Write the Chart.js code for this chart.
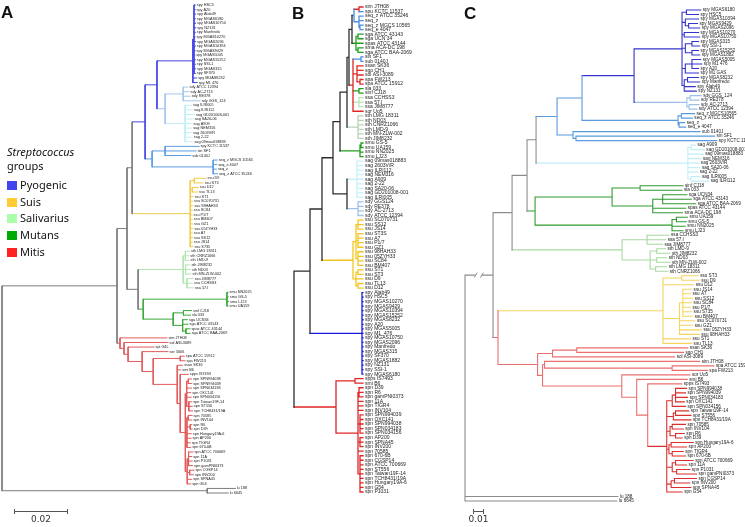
<!DOCTYPE html>
<html>
<head>
<meta charset="utf-8">
<script src="https://cdn.jsdelivr.net/npm/chart.js@4.4.1/dist/chart.umd.min.js"></script>
<style>
  body { margin: 0; background: #fff; }
  #wrap { position: relative; width: 745px; height: 527px; overflow: hidden; font-family: "Noto Sans", "DejaVu Sans", sans-serif; }
  canvas { position: absolute; top: 0; }
  .letter { position: absolute; font: bold 17px "Liberation Sans", Arial, sans-serif; color: #111; }
  .leg { position: absolute; left: 7px; font-size: 11px; color: #111; }
  .sw { position: absolute; left: 7px; width: 10px; height: 9px; }
</style>
</head>
<body>
<div id="wrap">
  <canvas id="treeA" width="258" height="527" style="left:0"></canvas>
  <canvas id="treeB" width="185" height="527" style="left:250px"></canvas>
  <canvas id="treeC" width="315" height="527" style="left:430px"></canvas>
  <div class="letter" style="left:1px;top:3px">A</div>
  <div class="letter" style="left:292px;top:4px">B</div>
  <div class="letter" style="left:464px;top:4px">C</div>
  <div id="legend"></div>
</div>
<script>
// Streptococcus groups legend
const groupNames = ['Pyogenic', 'Suis', 'Salivarius', 'Mutans', 'Mitis'];
const groupColors = ['#4444ee', '#ffcc33', '#aaffaa', '#00aa00', '#ff2222'];

// --- panel A (branch lengths in 0.001 substitutions/site) ---
const spyCladeA = "((spy HSC5:0.5,spy A20:0.4,spy Alab49:0.6,spy MGAS6180:0.5,spy MGAS10750:0.6,spy NZ131:0.7,spy Manfredo:0.5,spy MGAS10270:0.4,spy MGAS2096:0.6,spy MGAS10394:0.5,spy MGAS9429:0.4,spy MGAS5005:0.3,spy MGAS15252:0.5,spy SSI-1:0.5,spy MGAS315:0.6,spy SF370:0.5)pyo:0.4,spy MGAS8232:1.4,spy M1 476:1.6)pyo:13.3";
const sdySagA = "((sdy ATCC 12394:1.8,sdy AC-2713:2.2,sdy RE378:2.6,sdy GGS_124:6.3)sdy:6.7,(sag ILRI005:2.4,sag ILRI112:2.8,sag GD201008-001:3.5,sag SA20-06:3.0,sag A909:2.6,sag NEM316:2.5,sag 2603V/R:2.4,sag 2-22:2.7,sag 09mas018883:2.9)sag:7.4)sdy:3.0";
const seqCladeA = "((spy KCTC 11537:12.6,sin SF1:11.5,sub 0140J:9.5)seq:4.8,(seq_z MGCS 10565:1.5,seq_e 4047:1.3,seq_z:1.2,seq_z ATCC 35246:1.6)seq:22.6)seq:2.6";
const suisCladeA = "((ssu D9:4.4,ssu ST3:3.3)suis:1.5,(ssu D12:2.2,ssu TL13:1.9)suis:0.8,ssu ST1:1.1,ssu SC070731:0.9,ssu 98HAH33:1.0,ssu SC84:0.8,ssu P1/7:0.7,ssu BM407:0.8,ssu GZ1:0.9,ssu 05ZYH33:1.0,ssu A7:0.8,ssu SS12:0.9,ssu JS14:0.8,ssu S735:1.0)suis:21.5";
const salCladeA = "((sth LMG 18311:1.5,sth CNRZ1066:1.3,sth LMD-9:1.4)sal:0.8,(sth JIM8232:1.6,sth ND03:1.8,sth MN-ZLW-002:2.0)sal:0.9,(ssa JIM8777:2.3,ssa CCHSS3:2.1,ssa 57.I:2.4)sal:1.4)sal:16.7";
const mutCladeA = "((smu NN2025:0.4,smu GS-5:0.5,smu LJ23:0.6,smu UA159:0.4)mut:31.0,((sinf CJ18:3.0,sla 033:2.6)mut:3.8,(sga UCN34:1.8,sga ATCC 43143:2.0,(spas ATCC 43144:1.5,sga ATCC BAA-2069:1.6)mut:1.2)mut:3.5)mut:11.1)mut:1.9";
const spnCladeA = "(((spn SPN994038:1.2,spn SPN994039:1.3)mit:0.6,spn SPN034183:1.8,spn OXC141:1.5,spn SPN034156:1.7,(spn Taiwan19F-14:1.1,spn ST556:1.3,spn TCH8431/19A:1.4)mit:0.8)mit:0.5,((spn 70585:1.4,spn INV104:1.3)mit:0.5,(spn R6:0.6,spn D39:0.7)mit:1.2,spn Hungary19A-6:1.6,spn AP200:1.5,spn TIGR4:1.2,spn 670-6B:1.4)mit:0.6,((spn ATCC 700669:1.6,spn 11A:1.2,spn P1031:1.3,spn gamPNI0373:1.5)mit:0.5,(spn CGSP14:1.6,spn INV200:1.4)mit:0.9,spn SPNA45:1.7,spn G54:1.3)mit:0.7)mit:1.9";
const mitCladeA = "(sim JTH08:17.4,(sol ASI-3089:16.3,(spi G4L:9.6,(ser 5606:9.6,((spa ATCC 15912:1.5,spa FW213:1.8)mit:10.0,(ssan SK36:2.0,smi B6:1.3,(spps IS7493:3.0," + spnCladeA + ")mit:1.1)mit:8.9)mit:4.1)mit:5.2)mit:1.5)mit:1.5)mit:1.1";
const outCladeA = "(lu 188:10.4,lu 6645:7.8)grey:76.0";
const treeA = `((((((${spyCladeA},${sdySagA})pyo:4.4,${seqCladeA})pyo:4.8,${suisCladeA})grey:1.9,(${salCladeA},${mutCladeA})grey:4.1)grey:3.7,${mitCladeA})grey:42.6,${outCladeA})grey;`;
const scaleBarA = 0.02;

// --- panel B (cladogram, relative node depths) ---
const topCladeB = "(((sim JTH08|mit:2,spu KCTC 11537|seq:2)mit:5,(seq_z ATCC 35246:2,seq_z:2,(seq_z MGCS 10565:1,seq_e 4047:1)seq:1)seq:5)seq:2,((sga ATCC 43143:2,sga UCN 34:2)mut:2,spas ATCC 43144:3,(sma ACA-DC 198:1,sga ATCC BAA-2069:1)mut:2)mut:4)black:3";
const mixCladeB = "((sin SF1:2,sub 0140J:2)seq:8,(ssan SK36:4,sgo CH1:4,sol ASI-3089:3,(spa FW213:1,spa ATCC 15912:1)mit:3)mit:4,(sla 033:2,sinf CJ18:2)mut:6,(ssa CCHSS3:2,ssa 57.I:1,ssa JIM8777:1)sal:6,sor Uo5:10)mit:4";
const sthCladeB = "(sth LMG 18311:2,sth ND03:2,sth CNRZ1066:2,sth LMD-9:2,sth MN-ZLW-002:2,sth JIM8232:2)salp:11";
const smuCladeB = "((smu GS-5:1,smu UA159:1)mut:1,smu NN2025:2,smu LJ23:2)mut:20";
const sagSdyB = "((sag 09mas018883:2,sag 2603V/R:2,sag ILRI112:2,sag NEM316:2,sag A909:2,sag 2-22:2,sag SA20-06:2,sag GD201008-001:2,sag ILRI005:2)sag:10,(sdy GGS124:1,sdy RE378:1,sdy AC-2713:1,sdy ATCC 12394:1)sdy:11)black:14";
const suisCladeB = "(((ssu SC070731:2,ssu SS12:2,ssu JS14:2)suis:2,(ssu ST3S:1,ssu A7:1,ssu P1/7:1,ssu GZ1:1)suis:2,(ssu 98HAH33:1,ssu 05ZYH33:1,ssu SC84:1,ssu BM407:1)suis:2)suis:3,((ssu ST1:1,ssu ST3:1)suis:2,ssu D9:3,(ssu TL13:1,ssu D12:1)suis:2)suis:3)suis:31";
const spyCladeB = "(spy Alab49:1,spy HSC5:1,spy MGAS10270:1,spy MGAS9429:1,spy MGAS10394:1,spy MGAS15252:1,spy MGAS8232:1,spy A20:1,spy MGAS5005:1,spy M1_476:1,spy MGAS10750:1,spy MGAS2096:1,spy Manfredo:1,spy MGAS315:1,spy SF370:1,spy MGAS1882:1,spy NZ131:1,spy SSI-1:1,spy MGAS6180:1)pyo:52";
const mitCladeB = "((spps IS7493:2,smi B6:2)mit:19,((spn D39:1,spn R6:1,spn gamPNI0373:1)mit:1,spn 11A:2,spn TIGR4:2,spn INV104:2,(spn SPN994039:1,spn OXC141:1,spn SPN994038:1,spn SPN034183:1,spn SPN034156:1)mit:2,(spn AP200:1,spn SPNA45:1,spn INV200:1)mit:2,spn 70585:2,(spn 670-6B:1,spn CGSP14:1,spn ATCC 700669:1,spn ST556:1,spn Taiwan19F-14:1,spn TCH8431/19A:1,spn Hungary19A-6:1,spn G54:1,spn P1031:1)mit:2)mit:22)mit:42";
const treeB = `(((((((${topCladeB},${mixCladeB})black:2,${sthCladeB})black:7,${smuCladeB})black:7,${sagSdyB})black:11,${suisCladeB})black:12,${spyCladeB})black:16,${mitCladeB})black;`;

// --- panel C (branch lengths in 0.001 substitutions/site, root branch broken) ---
const spyCladeC = "((spy MGAS6180:13,spy HSC5:11)pyo:4,(spy MGAS10394:12,(spy MGAS9429:8,spy MGAS2096:10)pyo:3)pyo:3,(spy MGAS10270:13,spy MGAS10750:14)pyo:2,((spy MGAS315:6,spy SSI-1:7)pyo:6,(spy MGAS15252:6,spy MGAS1882:7)pyo:6)pyo:3,((spy MGAS5005:8,spy M1 476:9,spy A20:6)pyo:6,spy M1 GAS:12)pyo:3,((spy MGAS8232:10,spy Manfredo:11)pyo:3,spy Alab49:10,spy NZ131:11)pyo:2)pyo:43.6";
const sdyCladeC = "((sdy GGS_124:10,sdy RE378:8)sdy:3,(sdy AC-2713:9,sdy ATCC 12394:7)sdy:2)sdy:48";
const seqCladeC = "((seq_z MGCS10565:12,seq_z ATCC 35246:10)seq:3,(seq_z:5,seq_e 4047:6)seq:1)seq:87.3";
const subCladeC = "(sub 0140J:115.5,(sin SF1:126,spy KCTC 11537:128)seq:2.7)seq:14.5";
const sagCladeC = "((sag A909:4,sag GD201008-001:12)sag:3,sag 09mas018883:14,sag NEM316:12,sag 2603V/R:10,sag SA20-06:11,sag 2-22:9,(sag ILRI005:8,sag ILRI112:16)sag:3)sag:138";
const mutCladeC = "(((sinf CJ18:39,sla 033:38)mut:25.5,((sga UCN34:22,sga ATCC 43143:26,sga ATCC BAA-2069:30)mut:9,spas ATCC 43144:30,sma ACA-DC 198:27)mut:37)mut:70,((smu UA159:10,smu GS-5:9)mut:4,smu NN2025:12,smu LJ23:10)mut:124.5)mut:7.3";
const salCladeC = "((ssa CCHSS3:20,ssa 57.I:17,ssa JIM8777:14)sal:22.7,((sth LMD-9:8,sth JIM8232:12)sal:6,(sth ND03:9,sth MN-ZLW-002:12)sal:6,(sth LMG 18311:10,sth CNRZ1066:11)sal:5)sal:25.5)sal:100";
const suisCladeC = "((ssu ST3:15,ssu D9:16)suis:17,ssu D12:28,((ssu JS14:8,ssu A7:7,ssu SS12:9,ssu SC84:8,ssu P1/7:7,ssu S735:8,ssu BM407:9)suis:3,ssu SC070731:14,ssu GZ1:12,ssu 05ZYH33:20,ssu 98HAH33:18)suis:15,ssu ST1:25,ssu TL13:26)suis:150";
const spnCladeC = "(((spn SPN994038:10,spn SPN994039:9,spn SPN034183:11,spn OXC141:8)mit:3,spn SPN034156:12)mit:5,((spn Taiwan19F-14:12,spn ST556:14)mit:2,spn TCH8431/19A:16)mit:6,((spn 70585:12,spn INV104:10)mit:2,(spn R6:8,spn D39:6)mit:5)mit:3,((spn Hungary19A-6:20,spn AP200:14)mit:2,(spn TIGR4:10,spn 670-6B:12)mit:3)mit:2,((spn ATCC 700669:16,spn 11A:10)mit:3,(spn P1031:12,spn gamPNI0373:18)mit:4)mit:5,((spn CGSP14:20,spn INV200:14)mit:3,spn SPNA45:18)mit:4,spn G54:14)mit:17.3";
const mitCladeC = "(((ssan SK36:101,sgo CH1:97)mitL:22,sol ASI-3089:111)mitL:13.6,((sim JTH08:141,(spa ATCC 15912:38,spa FW213:32)mitL:116)mitL:1.8,(sor Uo5:62,(smi B6:46,(spps IS7493:31," + spnCladeC + ")mitL:10)mitL:13.6)mitL:72)mitL:4.5)mitL:36";
const treeC = `((((((((${spyCladeC},${sdyCladeC})pyo:47.3,${seqCladeC})seq:22.7,${subCladeC})seq:19.1,${sagCladeC})grey:8.2,${mutCladeC})grey:13.6,${salCladeC})grey:17.3,(${suisCladeC},${mitCladeC})mitL:4.5)grey:25.5,lu 188:139,lu 6645:138)grey;`;
const scaleBarC = 0.01;

const paletteA = { grey: '#7d7d7d', pyo: '#4646e4', sdy: '#a6c6ee', sag: '#c2eff8', seq: '#5c9ce2', suis: '#f2cc4a', sal: '#b4e6b0', mut: '#3aa93a', mit: '#e35c5c' };
const paletteB = { black: '#2e2e2e', pyo: '#1a1ade', sdy: '#9fc0ea', sag: '#c6f1f8', seq: '#4a8fe2', suis: '#f4c51e', sal: '#b6e8ae', salp: '#b7d2b7', mut: '#1f9e1f', mit: '#e02626' };
const paletteC = { grey: '#8c8c8c', pyo: '#3434cc', sdy: '#9cc0ea', sag: '#c0eff8', seq: '#5a9ae0', suis: '#f6d35c', sal: '#a9d9a1', mut: '#2f9b2f', mit: '#db2f2f', mitL: '#ea6f6f' };

function parseNewick(s) {
  let i = 0;
  function node() {
    const n = { children: [] };
    if (s[i] === '(') {
      i++;
      n.children.push(node());
      while (s[i] === ',') { i++; n.children.push(node()); }
      i++;
    }
    let lab = '';
    while (i < s.length && !',():;'.includes(s[i])) lab += s[i++];
    lab = lab.trim();
    n.len = 0;
    if (s[i] === ':') {
      i++;
      let num = '';
      while (i < s.length && !',();'.includes(s[i])) num += s[i++];
      n.len = parseFloat(num);
    }
    if (n.children.length) n.color = lab || null;
    else { const p = lab.split('|'); n.name = p[0].trim(); n.color = p[1] || null; }
    return n;
  }
  return node();
}

function layoutTree(root, align) {
  const leaves = [], segs = [];
  (function walk(n, x0, col) {
    n.x = x0 + n.len;
    n.col = n.color || col;
    if (!n.children.length) { n.y = leaves.length; leaves.push(n); }
    else n.children.forEach(c => walk(c, n.x, n.col));
  })(root, 0, null);
  if (align) {
    const m = Math.max(...leaves.map(l => l.x));
    leaves.forEach(l => { l.x = m; });
  }
  (function place(n) {
    if (!n.children.length) return;
    n.children.forEach(place);
    n.y = (n.children[0].y + n.children[n.children.length - 1].y) / 2;
  })(root);
  (function collect(n) {
    if (!n.children.length) return;
    const first = n.children[0], last = n.children[n.children.length - 1];
    segs.push({ c: n.col, a: [n.x, first.y], b: [n.x, last.y] });
    n.children.forEach(c => {
      segs.push({ c: c.col, a: [n.x, c.y], b: [c.x, c.y] });
      collect(c);
    });
  })(root);
  return { root, leaves, segs };
}

const leafLabels = {
  id: 'leafLabels',
  afterDatasetsDraw(chart, args, o) {
    if (!o || !o.leaves) return;
    const { ctx, scales: { x, y } } = chart;
    ctx.save();
    ctx.fillStyle = o.color;
    ctx.font = o.font;
    ctx.textBaseline = 'middle';
    o.leaves.forEach(l => ctx.fillText(l.name, x.getPixelForValue(l.x) + o.gap, y.getPixelForValue(l.y)));
    ctx.restore();
  }
};

const scaleBar = {
  id: 'scaleBar',
  afterDraw(chart, args, o) {
    if (!o || !o.length) return;
    const { ctx, scales: { x } } = chart;
    const x0 = chart.chartArea.left + o.left;
    const x1 = x0 + (x.getPixelForValue(o.length) - x.getPixelForValue(0));
    ctx.save();
    ctx.strokeStyle = '#555';
    ctx.lineWidth = 1;
    ctx.beginPath();
    ctx.moveTo(x0, o.y + 0.5); ctx.lineTo(x1, o.y + 0.5);
    ctx.moveTo(x0 + 0.5, o.y - 2); ctx.lineTo(x0 + 0.5, o.y + 3);
    ctx.moveTo(x1 - 0.5, o.y - 2); ctx.lineTo(x1 - 0.5, o.y + 3);
    ctx.stroke();
    ctx.fillStyle = '#333';
    ctx.font = o.font;
    ctx.textAlign = 'center';
    ctx.textBaseline = 'top';
    ctx.fillText(o.label, (x0 + x1) / 2, o.y + 4);
    ctx.restore();
  }
};

// "//" mark on a truncated branch
const breakMark = {
  id: 'breakMark',
  afterDatasetsDraw(chart, args, o) {
    if (!o || !o.node) return;
    const { ctx, scales: { x, y } } = chart;
    const py = y.getPixelForValue(o.node.y);
    const p0 = x.getPixelForValue(o.node.x * 0.38);
    const p1 = x.getPixelForValue(o.node.x * 0.6);
    ctx.save();
    ctx.fillStyle = '#fff';
    ctx.fillRect(p0, py - 2, p1 - p0, 4);
    ctx.strokeStyle = '#8c8c8c';
    ctx.lineWidth = 1;
    ctx.beginPath();
    [p0, p1].forEach(px => { ctx.moveTo(px - 1.5, py + 2.5); ctx.lineTo(px + 1.5, py - 2.5); });
    ctx.stroke();
    ctx.restore();
  }
};

function drawTree(canvasId, newick, cfg) {
  const canvas = document.getElementById(canvasId);
  const W = canvas.width, H = canvas.height;
  const tree = layoutTree(parseNewick(newick), cfg.align);
  const n = tree.leaves.length;
  const step = (cfg.bottom - cfg.top) / (n - 1);
  const byColor = {};
  tree.segs.forEach(s => {
    (byColor[s.c] = byColor[s.c] || []).push({ x: s.a[0], y: s.a[1] }, { x: s.b[0], y: s.b[1] }, { x: null, y: null });
  });
  const datasets = Object.keys(byColor).map(k => ({
    data: byColor[k],
    borderColor: cfg.palette[k] || '#888',
    borderWidth: cfg.lineWidth,
    pointRadius: 0,
    spanGaps: false,
    tension: 0,
    borderCapStyle: 'square',
    fill: false
  }));
  const breakNode = cfg.breakRoot ? tree.root.children[0] : null;
  return new Chart(canvas.getContext('2d'), {
    type: 'line',
    data: { datasets },
    options: {
      responsive: false,
      animation: false,
      events: [],
      layout: { padding: 0 },
      scales: {
        x: { type: 'linear', display: false, min: -cfg.rootPx / cfg.unitPx, max: (W - cfg.rootPx) / cfg.unitPx },
        y: { type: 'linear', display: false, reverse: true, min: -cfg.top / step, max: (H - cfg.top) / step }
      },
      plugins: {
        legend: { display: false },
        tooltip: { enabled: false },
        leafLabels: { leaves: tree.leaves, font: cfg.labelFont, color: '#222', gap: cfg.gap },
        scaleBar: cfg.bar || {},
        breakMark: { node: breakNode }
      }
    },
    plugins: [leafLabels, scaleBar, breakMark]
  });
}

drawTree('treeA', treeA, {
  palette: paletteA, rootPx: 2, unitPx: 2.7, top: 5, bottom: 493, lineWidth: 1,
  labelFont: '3.8px "Liberation Sans", sans-serif', gap: 1.5,
  bar: { length: scaleBarA / 0.001, left: 14, y: 511, label: String(scaleBarA), font: '9px "DejaVu Sans", sans-serif' }
});
drawTree('treeB', treeB, {
  palette: paletteB, rootPx: 44, unitPx: 1, top: 7, bottom: 492, lineWidth: 1.3, align: true,
  labelFont: '5px "Liberation Sans", sans-serif', gap: 2
});
drawTree('treeC', treeC, {
  palette: paletteC, rootPx: 35, unitPx: 1.1, top: 10, bottom: 501, lineWidth: 1.1, breakRoot: true,
  labelFont: '4.6px "Liberation Sans", sans-serif', gap: 2,
  bar: { length: scaleBarC / 0.001, left: 43, y: 511, label: String(scaleBarC), font: '9px "DejaVu Sans", sans-serif' }
});

// legend block of panel A
const legend = document.getElementById('legend');
legend.innerHTML = '<div class="leg" style="top:145px;line-height:14px"><i>Streptococcus</i><br>groups</div>' +
  groupNames.map((g, k) =>
    `<div class="sw" style="top:${181 + k * 16.7}px;background:${groupColors[k]}"></div>` +
    `<div class="leg" style="left:20px;top:${177 + k * 16.7}px;line-height:16px">${g}</div>`
  ).join('');
</script>
</body>
</html>
